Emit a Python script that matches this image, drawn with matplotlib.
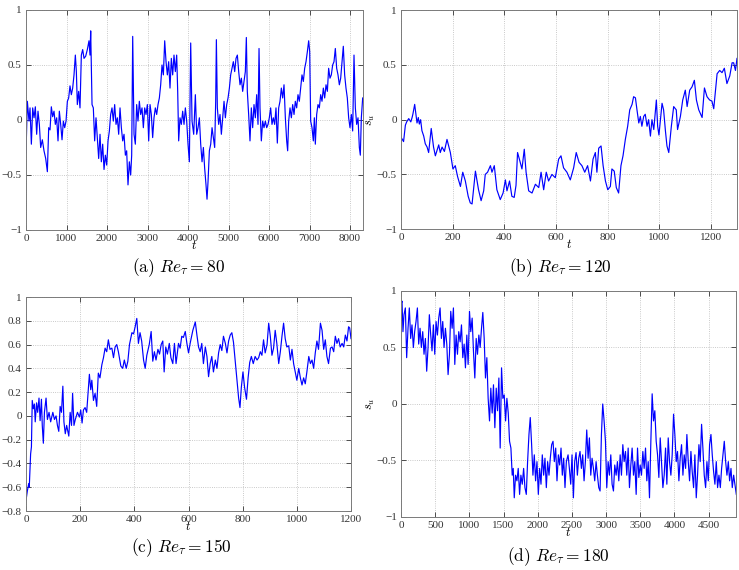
import matplotlib
matplotlib.use('Agg')
import matplotlib.pyplot as plt

plt.rcParams['mathtext.fontset'] = 'cm'
plt.rcParams['font.family'] = ['Liberation Serif', 'DejaVu Serif']

# (a) Re_tau = 80
t_a = [0, 33, 74, 99, 132, 165, 198, 230, 263, 296, 329, 362, 403, 444, 486, 527, 560, 593, 625, 658,
       691, 724, 757, 790, 823, 856, 889, 922, 955, 988, 1021, 1053, 1086, 1119, 1152, 1185, 1218, 1243,
       1267, 1300, 1333, 1366, 1399, 1432, 1473, 1514, 1555, 1580, 1597, 1630, 1662, 1695, 1728, 1761,
       1794, 1827, 1860, 1893, 1926, 1959, 1992, 2025, 2058, 2090, 2123, 2156, 2189, 2222, 2255, 2288,
       2321, 2354, 2387, 2420, 2453, 2485, 2518, 2551, 2584, 2609, 2634, 2667, 2699, 2732, 2765, 2798,
       2831, 2864, 2897, 2930, 2963, 2996, 3029, 3062, 3094, 3127, 3160, 3193, 3226, 3259, 3292, 3325,
       3358, 3391, 3424, 3457, 3490, 3522, 3555, 3588, 3621, 3654, 3687, 3720, 3745, 3769, 3802, 3835,
       3868, 3901, 3934, 3967, 4000, 4033, 4066, 4099, 4140, 4181, 4214, 4247, 4280, 4313, 4346, 4379,
       4411, 4444, 4469, 4494, 4527, 4560, 4593, 4625, 4658, 4683, 4700, 4724, 4757, 4790, 4823, 4856,
       4889, 4922, 4955, 4988, 5021, 5053, 5086, 5119, 5152, 5185, 5218, 5251, 5284, 5317, 5349, 5382,
       5415, 5440, 5464, 5497, 5530, 5563, 5596, 5629, 5662, 5695, 5728, 5753, 5777, 5810, 5843, 5876,
       5909, 5942, 5975, 6007, 6040, 6073, 6106, 6139, 6172, 6205, 6238, 6271, 6304, 6337, 6370, 6403,
       6436, 6460, 6485, 6518, 6551, 6584, 6617, 6649, 6682, 6715, 6748, 6781, 6814, 6847, 6880, 6913,
       6946, 6979, 7004, 7028, 7061, 7094, 7119, 7143, 7176, 7209, 7242, 7275, 7308, 7341, 7374, 7407,
       7440, 7472, 7505, 7538, 7571, 7604, 7637, 7670, 7703, 7736, 7769, 7802, 7834, 7867, 7900, 7933,
       7966, 7999, 8032, 8065, 8098, 8131, 8164, 8197, 8230, 8254, 8279, 8312]
s_a = [-0.30, 0.17, -0.01, 0.11, -0.22, 0.11, 0.02, 0.12, -0.13, 0.08, -0.04, -0.25, -0.18, -0.28, -0.35,
       -0.47, -0.07, -0.09, 0.12, 0.03, 0.08, -0.04, 0.02, -0.19, 0.08, -0.04, -0.18, -0.01, -0.07, -0.01,
       0.17, 0.20, 0.31, 0.23, 0.29, 0.41, 0.59, 0.44, 0.14, 0.26, 0.11, 0.59, 0.64, 0.56, 0.58, 0.64,
       0.72, 0.59, 0.81, 0.14, 0.11, -0.19, 0.02, -0.16, -0.35, -0.13, -0.38, -0.22, -0.45, -0.32, -0.41,
       -0.19, -0.10, 0.05, 0.11, -0.01, 0.14, -0.04, 0.02, -0.13, 0.11, -0.07, -0.19, -0.13, -0.32, -0.28,
       -0.59, -0.38, -0.50, -0.32, 0.76, -0.13, -0.22, 0.14, -0.01, 0.17, 0.05, 0.11, -0.07, 0.11, 0.05,
       0.14, -0.19, 0.14, 0.05, -0.16, 0.02, 0.11, 0.05, 0.14, 0.20, 0.32, 0.50, 0.41, 0.72, 0.53, 0.41,
       0.53, 0.29, 0.56, 0.41, 0.59, 0.44, 0.59, 0.26, -0.19, 0.02, -0.04, 0.08, -0.04, 0.11, -0.01, -0.22,
       -0.38, 0.70, -0.01, -0.13, 0.23, -0.13, -0.07, 0.02, -0.22, -0.38, -0.25, -0.44, -0.59, -0.72, -0.56,
       -0.28, -0.22, -0.07, -0.16, -0.25, 0.17, 0.73, 0.11, -0.04, 0.05, -0.13, 0.02, 0.17, 0.02, 0.14,
       0.20, 0.29, 0.41, 0.47, 0.53, 0.44, 0.56, 0.59, 0.44, 0.32, 0.38, 0.26, 0.35, 0.44, 0.75, 0.26,
       0.05, -0.19, 0.11, -0.07, 0.14, 0.02, 0.23, -0.04, 0.65, 0.11, -0.19, -0.01, -0.07, -0.01, -0.07,
       -0.04, 0.02, 0.11, -0.04, 0.02, -0.04, 0.11, -0.21, 0.11, 0.17, 0.29, 0.20, 0.32, 0.02, -0.19,
       -0.28, -0.01, 0.11, 0.02, 0.14, 0.05, 0.17, 0.11, 0.23, 0.17, 0.29, 0.41, 0.35, 0.47, 0.53, 0.62,
       0.72, 0.62, -0.01, -0.07, -0.19, 0.02, -0.22, 0.05, 0.14, 0.11, 0.23, 0.17, 0.29, 0.20, 0.32, 0.26,
       0.47, 0.38, 0.41, 0.50, 0.53, 0.65, 0.47, 0.41, 0.32, 0.38, 0.53, 0.67, 0.41, 0.29, 0.20, 0.02,
       -0.07, 0.05, -0.10, 0.59, 0.11, -0.04, 0.02, -0.25, -0.32, 0.02, 0.20]

# (b) Re_tau = 120
t_b = [0, 5, 10, 17, 22, 30, 38, 43, 46, 53, 62, 67, 71, 76, 81, 88, 94, 101, 107, 117, 126, 133, 146,
       152, 159, 168, 178, 191, 201, 210, 219, 230, 239, 249, 260, 268, 275, 288, 300, 310, 320, 326, 335,
       346, 352, 361, 371, 384, 395, 404, 410, 420, 429, 438, 445, 451, 458, 468, 477, 484, 494, 507, 520,
       533, 542, 552, 562, 571, 584, 597, 610, 619, 629, 642, 655, 668, 678, 689, 700, 711, 722, 733, 743,
       752, 758, 765, 774, 782, 791, 800, 810, 816, 825, 833, 842, 851, 859, 868, 877, 885, 894, 900, 907,
       913, 920, 926, 932, 939, 945, 952, 958, 965, 971, 978, 988, 993, 998, 1010, 1016, 1023, 1029, 1036,
       1046, 1055, 1065, 1070, 1081, 1090, 1100, 1107, 1117, 1126, 1135, 1143, 1152, 1165, 1174, 1184,
       1194, 1203, 1210, 1223, 1233, 1242, 1251, 1261, 1272, 1281, 1287, 1294, 1300]
s_b = [-0.16, -0.18, -0.20, -0.05, -0.02, 0.01, -0.02, 0.02, 0.05, 0.14, -0.03, 0.02, -0.04, 0.00, -0.10,
       -0.15, -0.22, -0.25, -0.30, -0.08, -0.25, -0.33, -0.23, -0.30, -0.25, -0.29, -0.18, -0.30, -0.45,
       -0.42, -0.52, -0.61, -0.48, -0.56, -0.70, -0.76, -0.77, -0.47, -0.64, -0.74, -0.65, -0.50, -0.48,
       -0.42, -0.48, -0.42, -0.64, -0.73, -0.67, -0.55, -0.65, -0.56, -0.70, -0.71, -0.60, -0.30, -0.36,
       -0.45, -0.27, -0.48, -0.65, -0.67, -0.59, -0.62, -0.48, -0.64, -0.48, -0.56, -0.50, -0.53, -0.36,
       -0.33, -0.44, -0.48, -0.55, -0.44, -0.30, -0.39, -0.42, -0.48, -0.42, -0.56, -0.36, -0.30, -0.48,
       -0.26, -0.24, -0.42, -0.56, -0.64, -0.61, -0.45, -0.47, -0.62, -0.67, -0.42, -0.33, -0.18, -0.06,
       0.09, 0.14, 0.21, 0.20, 0.09, -0.03, 0.03, -0.06, 0.03, 0.05, -0.06, 0.00, -0.15, 0.00, -0.09, 0.18,
       -0.06, -0.14, 0.15, 0.09, -0.10, -0.24, -0.30, -0.06, 0.12, 0.09, -0.09, 0.03, 0.18, 0.27, 0.12,
       0.27, 0.30, 0.36, 0.18, 0.09, 0.02, 0.29, 0.21, 0.18, 0.17, 0.10, 0.42, 0.45, 0.43, 0.47, 0.33,
       0.40, 0.52, 0.52, 0.45, 0.56]

# (c) Re_tau = 150
t_c = [0, 5, 10, 12, 17, 20, 23, 27, 31, 34, 39, 43, 48, 52, 57, 60, 64, 68, 74, 79, 85, 91, 99, 105,
       111, 116, 121, 126, 131, 136, 140, 145, 150, 158, 163, 168, 172, 177, 182, 190, 197, 202, 207, 212,
       218, 224, 230, 234, 239, 243, 249, 255, 261, 267, 273, 280, 286, 292, 298, 304, 310, 317, 323, 329,
       335, 341, 350, 357, 363, 370, 376, 382, 391, 397, 403, 409, 415, 421, 427, 434, 440, 446, 455, 462,
       468, 474, 480, 487, 493, 499, 505, 510, 516, 522, 529, 535, 542, 548, 554, 563, 569, 575, 581, 588,
       594, 600, 606, 616, 625, 631, 637, 643, 649, 655, 662, 668, 674, 680, 686, 692, 699, 705, 711, 717,
       723, 729, 736, 742, 748, 754, 760, 766, 773, 780, 785, 790, 795, 801, 807, 814, 820, 826, 832, 839,
       846, 853, 859, 865, 871, 877, 883, 890, 896, 902, 908, 914, 920, 926, 933, 939, 945, 951, 957, 963,
       970, 976, 982, 988, 994, 1000, 1007, 1013, 1019, 1025, 1031, 1037, 1044, 1050, 1056, 1062, 1068,
       1074, 1080, 1087, 1093, 1099, 1105, 1111, 1117, 1124, 1130, 1136, 1142, 1148, 1154, 1160, 1167,
       1173, 1179, 1185, 1191, 1195, 1200]
s_c = [-0.71, -0.63, -0.57, -0.60, -0.32, -0.26, 0.13, 0.06, 0.10, -0.05, 0.11, 0.03, 0.15, -0.04, 0.14,
       -0.08, -0.23, 0.03, 0.15, -0.03, 0.03, -0.05, 0.03, -0.03, 0.00, -0.08, -0.13, 0.08, 0.03, 0.25,
       -0.05, -0.15, -0.08, -0.17, 0.03, -0.08, 0.19, -0.08, -0.03, 0.03, -0.01, 0.05, -0.06, 0.05, 0.07,
       0.03, 0.22, 0.35, 0.22, 0.30, 0.13, 0.19, 0.08, 0.36, 0.32, 0.43, 0.49, 0.57, 0.54, 0.64, 0.56, 0.57,
       0.49, 0.58, 0.60, 0.54, 0.42, 0.40, 0.47, 0.40, 0.46, 0.60, 0.70, 0.69, 0.75, 0.82, 0.61, 0.70,
       0.63, 0.47, 0.40, 0.51, 0.60, 0.71, 0.46, 0.54, 0.47, 0.56, 0.52, 0.60, 0.63, 0.37, 0.58, 0.52, 0.61,
       0.49, 0.44, 0.61, 0.44, 0.61, 0.57, 0.67, 0.66, 0.71, 0.61, 0.53, 0.61, 0.72, 0.79, 0.68, 0.58, 0.54,
       0.61, 0.44, 0.58, 0.50, 0.33, 0.44, 0.50, 0.37, 0.47, 0.40, 0.53, 0.60, 0.55, 0.67, 0.61, 0.53, 0.63,
       0.68, 0.70, 0.62, 0.45, 0.27, 0.15, 0.07, 0.24, 0.37, 0.24, 0.14, 0.32, 0.45, 0.50, 0.44, 0.50, 0.47,
       0.49, 0.54, 0.51, 0.64, 0.53, 0.60, 0.78, 0.67, 0.51, 0.57, 0.72, 0.61, 0.44, 0.54, 0.67, 0.78, 0.65,
       0.58, 0.59, 0.47, 0.56, 0.44, 0.37, 0.30, 0.40, 0.32, 0.26, 0.32, 0.27, 0.37, 0.50, 0.44, 0.47, 0.40,
       0.53, 0.63, 0.56, 0.78, 0.72, 0.56, 0.64, 0.50, 0.44, 0.57, 0.58, 0.54, 0.67, 0.61, 0.65, 0.58, 0.61,
       0.58, 0.68, 0.63, 0.75, 0.74, 0.65]

# (d) Re_tau = 180
t_d = [0, 15, 29, 44, 64, 83, 103, 122, 142, 161, 181, 200, 220, 240, 259, 279, 298, 318, 337, 357, 376,
       396, 415, 435, 454, 474, 494, 513, 533, 552, 572, 591, 611, 630, 650, 670, 689, 709, 728, 748, 767,
       787, 806, 826, 845, 865, 885, 904, 924, 943, 963, 982, 1002, 1021, 1041, 1060, 1080, 1100, 1119,
       1139, 1158, 1178, 1197, 1217, 1236, 1256, 1275, 1295, 1314, 1334, 1353, 1373, 1393, 1412, 1432,
       1451, 1471, 1490, 1510, 1530, 1549, 1569, 1588, 1608, 1627, 1642, 1657, 1676, 1696, 1715, 1735,
       1754, 1774, 1794, 1813, 1833, 1852, 1872, 1891, 1911, 1930, 1950, 1969, 1989, 2009, 2028, 2048,
       2067, 2087, 2106, 2126, 2145, 2165, 2184, 2204, 2224, 2243, 2263, 2282, 2302, 2321, 2341, 2360,
       2380, 2399, 2419, 2444, 2463, 2483, 2502, 2522, 2541, 2561, 2580, 2600, 2619, 2639, 2658, 2678,
       2697, 2717, 2737, 2756, 2776, 2795, 2815, 2834, 2854, 2873, 2893, 2912, 2932, 2951, 2971, 2991,
       3010, 3030, 3049, 3069, 3088, 3108, 3127, 3147, 3166, 3186, 3206, 3225, 3245, 3264, 3284, 3303,
       3323, 3342, 3362, 3381, 3401, 3420, 3440, 3460, 3479, 3499, 3518, 3538, 3557, 3577, 3596, 3616,
       3635, 3655, 3674, 3694, 3713, 3733, 3753, 3772, 3792, 3811, 3831, 3850, 3870, 3889, 3909, 3928,
       3948, 3967, 3987, 4006, 4026, 4045, 4065, 4084, 4104, 4124, 4143, 4163, 4182, 4202, 4221, 4241,
       4260, 4280, 4299, 4319, 4338, 4358, 4377, 4397, 4416, 4436, 4456, 4475, 4495, 4514, 4534, 4553,
       4573, 4592, 4612, 4631, 4651, 4671, 4690, 4710, 4729, 4749, 4768, 4788, 4807, 4827, 4846, 4866,
       4885, 4905]
s_d = [0.88, 0.91, 0.64, 0.79, 0.85, 0.41, 0.67, 0.85, 0.58, 0.70, 0.50, 0.64, 0.73, 0.85, 0.53, 0.67,
       0.50, 0.64, 0.44, 0.58, 0.29, 0.50, 0.79, 0.61, 0.47, 0.70, 0.44, 0.73, 0.61, 0.76, 0.85, 0.58, 0.73,
       0.50, 0.67, 0.53, 0.26, 0.44, 0.82, 0.67, 0.85, 0.35, 0.61, 0.44, 0.64, 0.55, 0.70, 0.41, 0.53, 0.32,
       0.61, 0.35, 0.82, 0.64, 0.76, 0.47, 0.23, 0.58, 0.44, 0.61, 0.50, 0.67, 0.81, 0.58, 0.23, 0.41, 0.05,
       -0.15, 0.14, -0.08, 0.17, -0.21, 0.14, -0.06, 0.23, -0.39, 0.32, 0.05, 0.08, -0.15, 0.05, -0.08,
       -0.33, -0.39, -0.63, -0.57, -0.83, -0.63, -0.68, -0.57, -0.80, -0.63, -0.71, -0.57, -0.74, -0.80,
       -0.51, -0.27, -0.12, -0.36, -0.63, -0.45, -0.68, -0.51, -0.80, -0.57, -0.71, -0.45, -0.63, -0.48,
       -0.74, -0.51, -0.63, -0.48, -0.36, -0.33, -0.51, -0.39, -0.68, -0.45, -0.54, -0.39, -0.63, -0.48,
       -0.74, -0.51, -0.45, -0.57, -0.71, -0.45, -0.83, -0.51, -0.43, -0.63, -0.48, -0.42, -0.57, -0.45,
       -0.68, -0.51, -0.23, -0.48, -0.30, -0.63, -0.48, -0.57, -0.68, -0.51, -0.63, -0.74, -0.77, -0.27,
       0.00, -0.15, -0.33, -0.74, -0.51, -0.63, -0.45, -0.71, -0.77, -0.54, -0.63, -0.51, -0.68, -0.45,
       -0.63, -0.36, -0.51, -0.42, -0.63, -0.39, -0.74, -0.54, -0.39, -0.63, -0.51, -0.80, -0.39, -0.65,
       -0.54, -0.63, -0.42, -0.57, -0.39, -0.68, -0.51, -0.83, -0.33, 0.09, -0.15, -0.06, -0.33, -0.45,
       -0.65, -0.30, -0.51, -0.74, -0.63, -0.39, -0.71, -0.30, -0.51, -0.63, -0.45, -0.09, -0.27, -0.51,
       -0.42, -0.68, -0.48, -0.36, -0.63, -0.45, -0.57, -0.27, -0.51, -0.68, -0.42, -0.60, -0.74, -0.45,
       -0.83, -0.63, -0.36, -0.51, -0.18, -0.39, -0.63, -0.74, -0.51, -0.68, -0.36, -0.27, -0.45, -0.60,
       -0.71, -0.51, -0.74, -0.63, -0.74, -0.57, -0.45, -0.33, -0.51, -0.63, -0.51, -0.68, -0.57, -0.74,
       -0.63, -0.71, -0.80]

captions = [r'$\mathrm{(a)}\ Re_\tau = 80$', r'$\mathrm{(b)}\ Re_\tau = 120$',
            r'$\mathrm{(c)}\ Re_\tau = 150$', r'$\mathrm{(d)}\ Re_\tau = 180$']

yticks_half = [-1, -0.5, 0, 0.5, 1]
yticks_half_labels = ['\u22121', '\u22120.5', '0', '0.5', '1']
yticks_c = [-0.8, -0.6, -0.4, -0.2, 0, 0.2, 0.4, 0.6, 0.8, 1]
yticks_c_labels = ['\u22120.8', '\u22120.6', '\u22120.4', '\u22120.2', '0', '0.2', '0.4', '0.6', '0.8', '1']

xticks_a = [0, 1000, 2000, 3000, 4000, 5000, 6000, 7000, 8000]
xticks_b = [0, 200, 400, 600, 800, 1000, 1200]
xticks_c = [0, 200, 400, 600, 800, 1000, 1200]
xticks_d = [0, 500, 1000, 1500, 2000, 2500, 3000, 3500, 4000, 4500]

panels = [
    (t_a, s_a, [0.0352, 0.5965, 0.456, 0.386], (0, 8320), (-1, 1), xticks_a, yticks_half, yticks_half_labels),
    (t_b, s_b, [0.5426, 0.598, 0.4547, 0.384], (0, 1300), (-1, 1), xticks_b, yticks_half, yticks_half_labels),
    (t_c, s_c, [0.0352, 0.1035, 0.4398, 0.3754], (0, 1200), (-0.8, 1), xticks_c, yticks_c, yticks_c_labels),
    (t_d, s_d, [0.5426, 0.093, 0.4533, 0.3965], (0, 4900), (-1, 1), xticks_d, yticks_half, yticks_half_labels),
]
caption_pos = [(0.242, 0.530), (0.758, 0.530), (0.245, 0.0386), (0.755, 0.0228)]

fig = plt.figure(figsize=(7.39, 5.70), dpi=100)

for (t, s, rect, xlim, ylim, xt, yt, ytl), cap, cpos in zip(panels, captions, caption_pos):
    ax = fig.add_axes(rect)
    ax.plot(t, s, color='#0000ff', linewidth=0.85)
    ax.set_xlim(*xlim)
    ax.set_ylim(*ylim)
    ax.set_xticks(xt)
    ax.set_xticklabels([str(v) for v in xt])
    ax.set_yticks(yt)
    ax.set_yticklabels(ytl)
    ax.grid(True, linestyle=':', color='#b8b8b8', linewidth=0.6)
    ax.tick_params(direction='in', top=True, right=True, length=3.5, width=0.6,
                   labelsize=8, pad=3, colors='#333333')
    for sp in ax.spines.values():
        sp.set_color('#7a7a7a')
        sp.set_linewidth(0.7)
    ax.set_xlabel(r'$t$', fontsize=9, labelpad=-3)
    ax.set_ylabel(r'$s_u$', fontsize=9)
    ax.yaxis.set_label_coords(-0.072, 0.5)
    fig.text(cpos[0], cpos[1], cap, ha='center', va='center', fontsize=12.5)

fig.savefig('out.png', dpi=100)
